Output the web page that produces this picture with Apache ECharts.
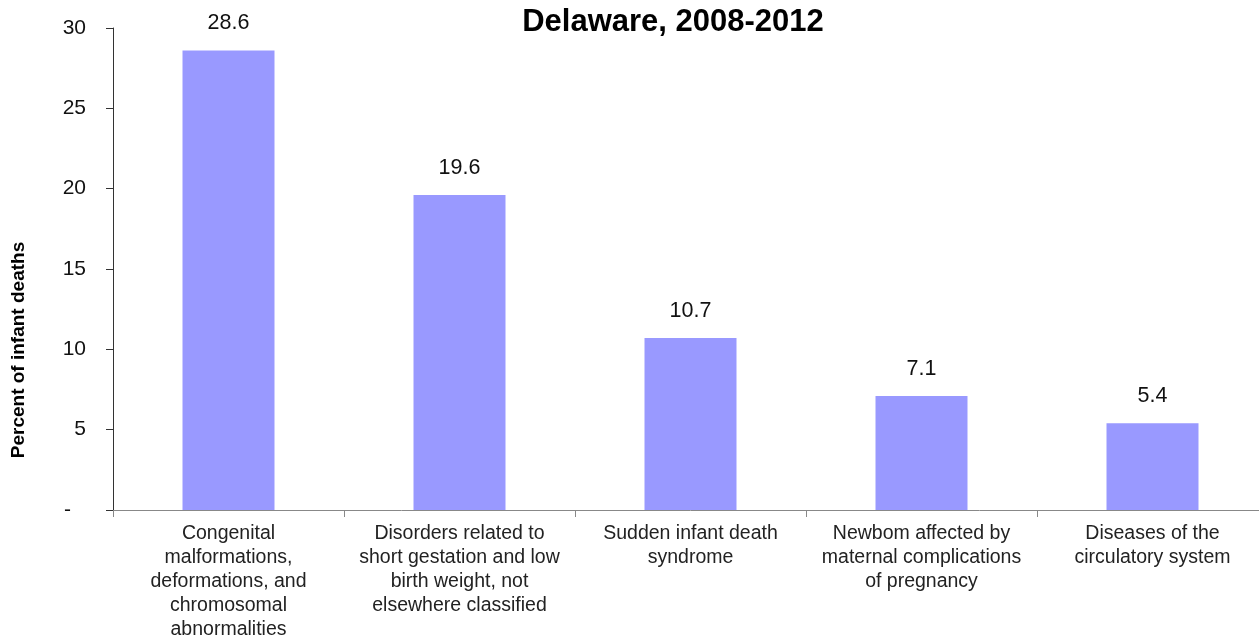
<!DOCTYPE html>
<html><head><meta charset="utf-8">
<script src="https://cdn.jsdelivr.net/npm/echarts@6/dist/echarts.min.js"></script>
<style>html,body{margin:0;padding:0;background:#fff;overflow:hidden}#c{width:1270px;height:644px}</style>
</head><body><div id="c"></div>
<script>
const categories = [
  "Congenital\nmalformations,\ndeformations, and\nchromosomal\nabnormalities",
  "Disorders related to\nshort gestation and low\nbirth weight, not\nelsewhere classified",
  "Sudden infant death\nsyndrome",
  "Newbom affected by\nmaternal complications\nof pregnancy",
  "Diseases of the\ncirculatory system"
];
const values = [28.6, 19.6, 10.7, 7.1, 5.4];
const titleText = "Delaware, 2008-2012";
const yAxisTitle = "Percent of infant deaths";

const FF = 'Liberation Sans, Arial, sans-serif';
const chart = echarts.init(document.getElementById('c'));
chart.setOption({
  animation: false,
  textStyle: {fontFamily: FF},
  graphic: [
    {type: 'text', x: 673, y: 22,
      style: {text: titleText, fontSize: 31, fontWeight: 'bold', fill: '#000', textAlign: 'center', textVerticalAlign: 'middle', fontFamily: FF}},
    {type: 'text', x: 19, y: 350, rotation: Math.PI/2,
      style: {text: yAxisTitle, fontSize: 19, fontWeight: 'bold', fill: '#000', textAlign: 'center', textVerticalAlign: 'middle', fontFamily: FF}}
  ],
  grid: {left: 113, right: 2, top: 28, bottom: 134, containLabel: false},
  xAxis: {type: 'category', data: categories,
    axisLine: {lineStyle: {color: '#888', width: 1}},
    axisTick: {show: true, length: 7, lineStyle: {color: '#888'}},
    axisLabel: {color: '#222', fontSize: 19.5, lineHeight: 24, interval: 0, margin: 12}},
  yAxis: {type: 'value', min: 0, max: 30, interval: 5,
    axisLine: {show: true, lineStyle: {color: '#333', width: 1}},
    axisTick: {show: true, length: 7, inside: false, lineStyle: {color: '#333'}},
    splitLine: {show: false},
    axisLabel: {color: '#111', fontSize: 21, margin: 27,
      formatter: v => v === 0 ? '{d|-}' : String(v),
      rich: {d: {fontSize: 21, color: '#111', padding: [0, 15, 0, 0]}}}},
  series: [{type: 'bar', data: values, barWidth: 92,
    itemStyle: {color: '#9999FF'},
    label: {show: true, position: 'top', distance: 16, color: '#111', fontSize: 21.5,
      formatter: p => p.value.toFixed(1)}}]
});
</script></body></html>
